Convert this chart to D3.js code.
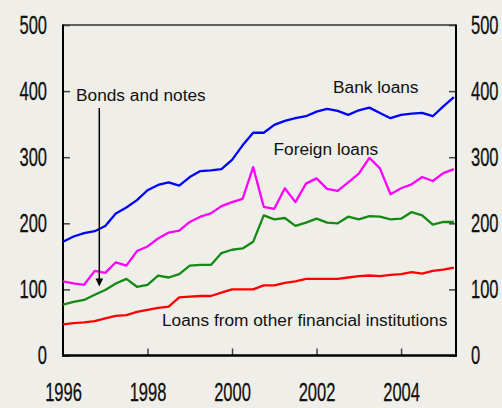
<!DOCTYPE html>
<html>
<head>
<meta charset="utf-8">
<script src="https://cdn.jsdelivr.net/npm/d3@7"></script>
<style>
  html, body { margin: 0; padding: 0; background: #F0EEE8; }
  svg { display: block; }
</style>
</head>
<body>
<svg id="chart" width="502" height="408"></svg>
<script>
// ---- Data (quarterly, 1996 Q1 .. 2005 Q2) ----
const startYear = 1996;
const bankLoans = [172,180,185,188,196,215,224,235,250,258,262,257,270,279,280,282,296,318,337,337,349,355,359,362,369,373,370,364,371,375,367,359,364,366,367,362,377,391];
const foreignLoans = [112,109,107,128,125,141,136,158,165,177,186,189,202,210,215,226,232,237,285,225,222,253,232,260,268,252,249,262,275,299,283,244,253,259,270,264,276,282];
const bondsNotes = [77,81,84,92,99,109,116,104,107,121,118,123,136,137,137,155,160,162,172,212,206,208,196,201,207,201,200,210,206,211,210,206,207,217,212,198,202,202];
const otherFin = [47,49,50,52,56,60,61,66,69,72,74,88,89,90,90,95,100,100,100,106,106,110,112,116,116,116,116,118,120,121,120,122,123,126,124,128,130,133];
const yTicks = [0,100,200,300,400,500];
const xTicks = [1996,1998,2000,2002,2004];
const seriesNames = ["Bank loans","Foreign loans","Bonds and notes","Loans from other financial institutions"];
const seriesColors = ["#0000FF","#FF00FF","#148A14","#FF0000"];

// ---- Layout ----
const L = 63, R = 456, T = 25, B = 355.5;
const svg = d3.select("#chart");
const x = d3.scaleLinear().domain([1996, 2005.3]).range([L, R]);
const y = d3.scaleLinear().domain([0, 500]).range([B, T]);

const sy = 0.66, sx = 0.636; // horizontal condensing of tick fonts

// Left axis
const gl = svg.append("g").attr("transform", `translate(${L},0)`)
  .call(d3.axisLeft(y).tickValues(yTicks).tickSize(-7).tickSizeOuter(0).tickPadding(16));
// Right axis
const gr = svg.append("g").attr("transform", `translate(${R},0)`)
  .call(d3.axisRight(y).tickValues(yTicks).tickSize(-7).tickSizeOuter(0).tickPadding(15));
// Bottom axis
const gb = svg.append("g").attr("transform", `translate(0,${B})`)
  .call(d3.axisBottom(x).tickValues(xTicks).tickFormat(d3.format("d")).tickSize(-7).tickSizeOuter(0).tickPadding(27.5));

[gl, gr, gb].forEach(g => {
  g.select(".domain").remove();
  g.selectAll(".tick line").attr("stroke", "#444").attr("stroke-width", 1.5);
  g.selectAll(".tick text").attr("fill", "#111").attr("font-family", "'Liberation Sans', Arial, sans-serif")
    .attr("stroke", "#111").attr("stroke-width", 0.3);
});
gl.selectAll(".tick text").attr("font-size", 25).attr("transform", `scale(${sy},1)`).attr("x", -16 / sy);
gr.selectAll(".tick text").attr("font-size", 25).attr("transform", `scale(${sy},1)`).attr("x", 15 / sy);
gb.selectAll(".tick text").attr("font-size", 26).attr("transform", `scale(${sx},1)`).attr("x", 0);
gb.selectAll(".tick line").filter(d => d === 1996).remove();

// Frame
svg.append("line").attr("x1", L).attr("x2", R).attr("y1", T).attr("y2", T).attr("stroke", "#333").attr("stroke-width", 1.3);
svg.append("line").attr("x1", L).attr("x2", L).attr("y1", T - 0.5).attr("y2", B + 1).attr("stroke", "#000").attr("stroke-width", 2);
svg.append("line").attr("x1", R).attr("x2", R).attr("y1", T - 0.5).attr("y2", B + 1).attr("stroke", "#000").attr("stroke-width", 2);
svg.append("line").attr("x1", L - 1).attr("x2", R + 1).attr("y1", B).attr("y2", B).attr("stroke", "#000").attr("stroke-width", 2.5);

// Lines
const allSeries = [bankLoans, foreignLoans, bondsNotes, otherFin];
const line = d3.line().x((d, i) => x(startYear + i * 0.25)).y(d => y(d));
allSeries.forEach((s, k) => {
  svg.append("path").datum(s).attr("d", line)
    .attr("fill", "none").attr("stroke", seriesColors[k]).attr("stroke-width", 2.3)
    .attr("stroke-linejoin", "round");
});

// Annotations
const font = "'Liberation Sans', Arial, sans-serif";
const ann = [
  {t: seriesNames[0], x: 333, y: 93.3},
  {t: seriesNames[1], x: 273.5, y: 154.5},
  {t: seriesNames[2], x: 76, y: 100.6},
  {t: seriesNames[3], x: 162, y: 325.7}
];
ann.forEach(a => svg.append("text").attr("x", a.x).attr("y", a.y).text(a.t)
  .attr("font-family", font).attr("font-size", 17.3).attr("fill", "#111"));

// Arrow for Bonds and notes
svg.append("line").attr("x1", 99.3).attr("x2", 99.3).attr("y1", 108).attr("y2", 280)
  .attr("stroke", "#000").attr("stroke-width", 1.5);
svg.append("path").attr("d", "M95.5,278.5 L103.1,278.5 L99.3,286.5 Z").attr("fill", "#000");
</script>
</body>
</html>
